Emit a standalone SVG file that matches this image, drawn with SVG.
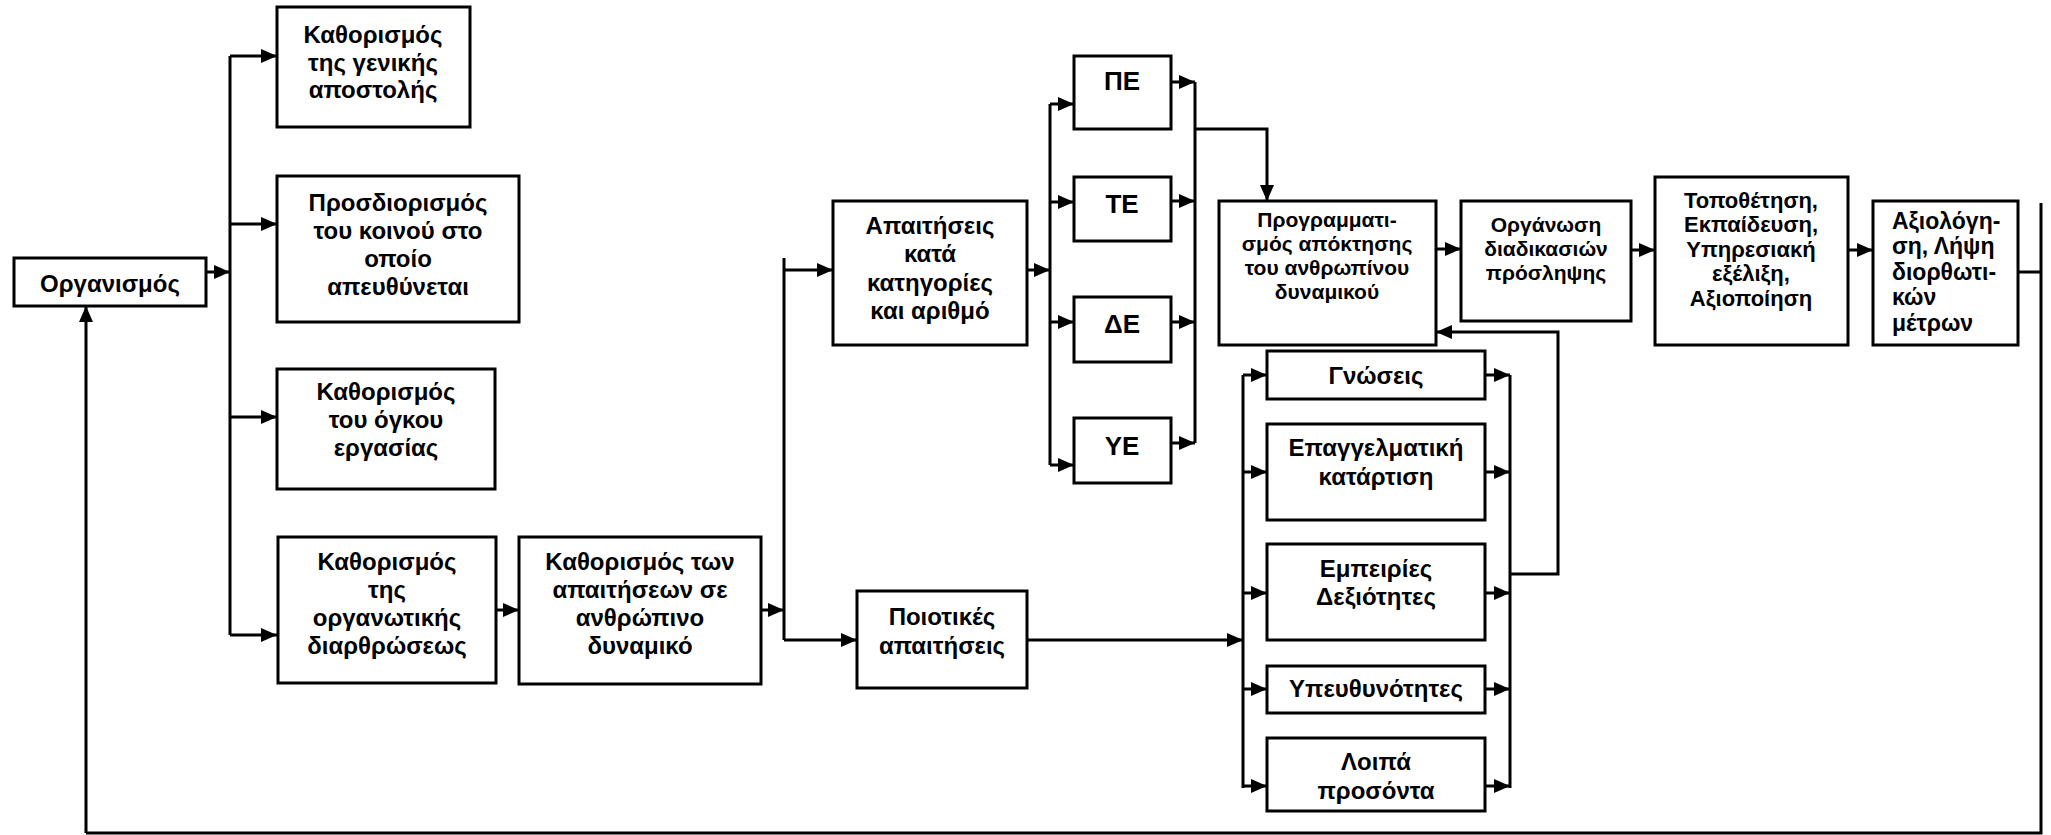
<svg xmlns="http://www.w3.org/2000/svg" width="2051" height="835" viewBox="0 0 2051 835">
<style>
.box{fill:#fff;stroke:#000;stroke-width:3}
.ln{fill:none;stroke:#000;stroke-width:3}
.ar{marker-end:url(#ah)}
text{font-family:"Liberation Sans",Arial,sans-serif;font-weight:bold;fill:#000;text-anchor:middle}
.t24{font-size:24px}
.t21{font-size:21px}
.t22{font-size:22px}
.t23{font-size:23px}
.t26{font-size:26px}
.lft{text-anchor:start}
</style>
<defs>
<marker id="ah" markerUnits="userSpaceOnUse" markerWidth="16" markerHeight="14" refX="16" refY="7" orient="auto">
<path d="M0,0 L16,7 L0,14 z" fill="#000"/>
</marker>
</defs>
<rect width="2051" height="835" fill="#fff"/>
<g id="connectors">
<path class="ln ar" d="M206,272 H230"/>
<path class="ln" d="M230,56 V635"/>
<path class="ln ar" d="M230,56 H277"/>
<path class="ln ar" d="M230,224 H277"/>
<path class="ln ar" d="M230,417 H277"/>
<path class="ln ar" d="M230,635 H277"/>
<path class="ln ar" d="M496,610 H519"/>
<path class="ln ar" d="M761,610 H784"/>
<path class="ln" d="M784,258 V640"/>
<path class="ln ar" d="M784,270 H833"/>
<path class="ln ar" d="M784,640 H857"/>
<path class="ln ar" d="M1027,270 H1050"/>
<path class="ln" d="M1050,104 V465"/>
<path class="ln ar" d="M1050,104 H1074"/>
<path class="ln ar" d="M1050,202 H1074"/>
<path class="ln ar" d="M1050,322 H1074"/>
<path class="ln ar" d="M1050,465 H1074"/>
<path class="ln ar" d="M1171,82 H1195"/>
<path class="ln ar" d="M1171,201 H1195"/>
<path class="ln ar" d="M1171,322 H1195"/>
<path class="ln ar" d="M1171,443 H1195"/>
<path class="ln" d="M1195,82 V443"/>
<path class="ln ar" d="M1195,129 H1267 V201"/>
<path class="ln ar" d="M1436,249 H1461"/>
<path class="ln ar" d="M1631,250 H1655"/>
<path class="ln ar" d="M1848,250 H1873"/>
<path class="ln" d="M2018,272 H2041"/>
<path class="ln" d="M2041,203 V833 H86"/>
<path class="ln ar" d="M86,833 V306"/>
<path class="ln ar" d="M1027,640 H1243"/>
<path class="ln" d="M1243,375 V788"/>
<path class="ln ar" d="M1243,375 H1267"/>
<path class="ln ar" d="M1243,472 H1267"/>
<path class="ln ar" d="M1243,593 H1267"/>
<path class="ln ar" d="M1243,689 H1267"/>
<path class="ln ar" d="M1243,786 H1267"/>
<path class="ln ar" d="M1485,375 H1510"/>
<path class="ln ar" d="M1485,472 H1510"/>
<path class="ln ar" d="M1485,593 H1510"/>
<path class="ln ar" d="M1485,689 H1510"/>
<path class="ln ar" d="M1485,786 H1510"/>
<path class="ln" d="M1510,375 V788"/>
<path class="ln ar" d="M1510,574 H1558 V332 H1436"/>
</g>
<g id="n-organismos"><rect class="box" x="14" y="258" width="192" height="48"/><text class="t24" x="110" y="292">Οργανισμός</text></g>
<g id="n-apostoli"><rect class="box" x="277" y="7" width="193" height="120"/><text class="t24" x="373" y="43">Καθορισμός</text><text class="t24" x="373" y="71">της γενικής</text><text class="t24" x="373" y="98">αποστολής</text></g>
<g id="n-koino"><rect class="box" x="277" y="176" width="242" height="146"/><text class="t24" x="398" y="211">Προσδιορισμός</text><text class="t24" x="398" y="239">του κοινού στο</text><text class="t24" x="398" y="267">οποίο</text><text class="t24" x="398" y="295">απευθύνεται</text></g>
<g id="n-ogkos"><rect class="box" x="277" y="369" width="218" height="120"/><text class="t24" x="386" y="400">Καθορισμός</text><text class="t24" x="386" y="428">του όγκου</text><text class="t24" x="386" y="456">εργασίας</text></g>
<g id="n-diarthrosi"><rect class="box" x="278" y="537" width="218" height="146"/><text class="t24" x="387" y="570">Καθορισμός</text><text class="t24" x="387" y="598">της</text><text class="t24" x="387" y="626">οργανωτικής</text><text class="t24" x="387" y="654">διαρθρώσεως</text></g>
<g id="n-apaitiseis-dyn"><rect class="box" x="519" y="537" width="242" height="147"/><text class="t24" x="640" y="570">Καθορισμός των</text><text class="t24" x="640" y="598">απαιτήσεων σε</text><text class="t24" x="640" y="626">ανθρώπινο</text><text class="t24" x="640" y="654">δυναμικό</text></g>
<g id="n-kat-arithmo"><rect class="box" x="833" y="201" width="194" height="144"/><text class="t24" x="930" y="234">Απαιτήσεις</text><text class="t24" x="930" y="262">κατά</text><text class="t24" x="930" y="291">κατηγορίες</text><text class="t24" x="930" y="319">και αριθμό</text></g>
<g id="n-poiotikes"><rect class="box" x="857" y="591" width="170" height="97"/><text class="t24" x="942" y="625">Ποιοτικές</text><text class="t24" x="942" y="654">απαιτήσεις</text></g>
<g id="n-pe"><rect class="box" x="1074" y="56" width="97" height="73"/><text class="t26" x="1122" y="90">ΠΕ</text></g>
<g id="n-te"><rect class="box" x="1074" y="177" width="97" height="64"/><text class="t26" x="1122" y="213">ΤΕ</text></g>
<g id="n-de"><rect class="box" x="1074" y="297" width="97" height="65"/><text class="t26" x="1122" y="333">ΔΕ</text></g>
<g id="n-ye"><rect class="box" x="1074" y="418" width="97" height="65"/><text class="t26" x="1122" y="455">ΥΕ</text></g>
<g id="n-programmatismos"><rect class="box" x="1219" y="201" width="217" height="144"/><text class="t21" x="1327" y="227">Προγραμματι-</text><text class="t21" x="1327" y="251">σμός απόκτησης</text><text class="t21" x="1327" y="275">του ανθρωπίνου</text><text class="t21" x="1327" y="299">δυναμικού</text></g>
<g id="n-organosi"><rect class="box" x="1461" y="201" width="170" height="120"/><text class="t21" x="1546" y="232">Οργάνωση</text><text class="t21" x="1546" y="256">διαδικασιών</text><text class="t21" x="1546" y="280">πρόσληψης</text></g>
<g id="n-topothetisi"><rect class="box" x="1655" y="177" width="193" height="168"/><text class="t22" x="1751" y="208">Τοποθέτηση,</text><text class="t22" x="1751" y="232">Εκπαίδευση,</text><text class="t22" x="1751" y="257">Υπηρεσιακή</text><text class="t22" x="1751" y="281">εξέλιξη,</text><text class="t22" x="1751" y="306">Αξιοποίηση</text></g>
<g id="n-axiologisi"><rect class="box" x="1873" y="201" width="145" height="144"/><text class="t23 lft" x="1892" y="229">Αξιολόγη-</text><text class="t23 lft" x="1892" y="254">ση, Λήψη</text><text class="t23 lft" x="1892" y="280">διορθωτι-</text><text class="t23 lft" x="1892" y="305">κών</text><text class="t23 lft" x="1892" y="331">μέτρων</text></g>
<g id="n-gnoseis"><rect class="box" x="1267" y="351" width="218" height="48"/><text class="t24" x="1376" y="384">Γνώσεις</text></g>
<g id="n-katartisi"><rect class="box" x="1267" y="424" width="218" height="96"/><text class="t24" x="1376" y="456">Επαγγελματική</text><text class="t24" x="1376" y="485">κατάρτιση</text></g>
<g id="n-empeiries"><rect class="box" x="1267" y="544" width="218" height="96"/><text class="t24" x="1376" y="577">Εμπειρίες</text><text class="t24" x="1376" y="605">Δεξιότητες</text></g>
<g id="n-ypeuthynotites"><rect class="box" x="1267" y="666" width="218" height="47"/><text class="t24" x="1376" y="697">Υπευθυνότητες</text></g>
<g id="n-loipa"><rect class="box" x="1267" y="738" width="218" height="73"/><text class="t24" x="1376" y="770">Λοιπά</text><text class="t24" x="1376" y="799">προσόντα</text></g>
</svg>
